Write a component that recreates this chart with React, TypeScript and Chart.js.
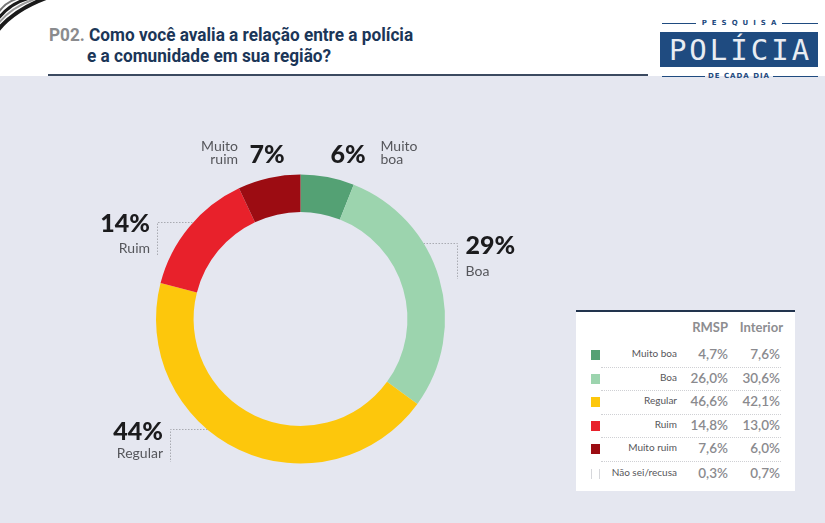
import React, { useEffect, useRef } from "react";
import { Chart, registerables } from "chart.js";

Chart.register(...registerables);

// ---------- DATA ----------
const categories = ["Muito boa", "Boa", "Regular", "Ruim", "Muito ruim"];
const totalValues = [6, 29, 44, 14, 7];
const sliceColors = ["#54a174", "#9cd4ae", "#fdc70c", "#e8212b", "#9c0c12"];

const tableHeaders = ["RMSP", "Interior"];
const tableRows = ["Muito boa", "Boa", "Regular", "Ruim", "Muito ruim", "Não sei/recusa"];
const rmspValues = ["4,7%", "26,0%", "46,6%", "14,8%", "7,6%", "0,3%"];
const interiorValues = ["7,6%", "30,6%", "42,1%", "13,0%", "6,0%", "0,7%"];

const titleCode = "P02.";
const titleLines = ["Como você avalia a relação entre a polícia", "e a comunidade em sua região?"];

// ---------- LABEL LAYOUT (offsets from donut centre, px) ----------
type LabelLayout = {
  pct: [number, number];
  pctAlign: CanvasTextAlign;
  name: [number, number];
  nameAlign: CanvasTextAlign;
  lineGap: number;
  leader?: { y: number; x1: number; x2: number; y2: number };
};
const labelLayout: LabelLayout[] = [
  { pct: [30, -156], pctAlign: "left", name: [80, -168], nameAlign: "left", lineGap: 13 },
  { pct: [165, -65], pctAlign: "left", name: [165, -43], nameAlign: "left", lineGap: 13,
    leader: { y: -76, x1: 90, x2: 156.5, y2: -40 } },
  { pct: [-137.5, 121], pctAlign: "right", name: [-137.5, 139], nameAlign: "right", lineGap: 13,
    leader: { y: 110, x1: -72, x2: -130.5, y2: 143 } },
  { pct: [-150.5, -87], pctAlign: "right", name: [-150.5, -66], nameAlign: "right", lineGap: 13,
    leader: { y: -97, x1: -75, x2: -143.5, y2: -64 } },
  { pct: [-51, -156], pctAlign: "left", name: [-62.5, -168], nameAlign: "right", lineGap: 13 },
];

const labelPlugin = {
  id: "donutLabels",
  beforeDatasetsDraw(chart: any) {
    const meta = chart.getDatasetMeta(0);
    const arc = meta.data[0];
    if (!arc) return;
    const cx = arc.x;
    const cy = arc.y;
    const ctx = chart.ctx;
    ctx.save();
    ctx.strokeStyle = "#a9abb2";
    ctx.lineWidth = 1;
    ctx.setLineDash([1.5, 1.5]);
    labelLayout.forEach((l) => {
      if (!l.leader) return;
      const { y, x1, x2, y2 } = l.leader;
      ctx.beginPath();
      ctx.moveTo(cx + x1, cy + y + 0.5);
      ctx.lineTo(cx + x2 + 0.5, cy + y + 0.5);
      ctx.lineTo(cx + x2 + 0.5, cy + y2);
      ctx.stroke();
    });
    ctx.restore();
  },
  afterDatasetsDraw(chart: any) {
    const meta = chart.getDatasetMeta(0);
    const arc = meta.data[0];
    if (!arc) return;
    const cx = arc.x;
    const cy = arc.y;
    const ctx = chart.ctx;
    ctx.save();
    ctx.textBaseline = "alphabetic";
    categories.forEach((cat, i) => {
      const l = labelLayout[i];
      ctx.fillStyle = "#1b1b1d";
      ctx.font = "900 25px Lato, 'Open Sans', sans-serif";
      ctx.textAlign = l.pctAlign;
      ctx.fillText(`${totalValues[i]}%`, cx + l.pct[0], cy + l.pct[1]);
      ctx.fillStyle = "#55565b";
      ctx.font = "14px Lato, 'Open Sans', sans-serif";
      ctx.textAlign = l.nameAlign;
      const words = cat.split(" ");
      words.forEach((w, k) => {
        ctx.fillText(w, cx + l.name[0], cy + l.name[1] + k * l.lineGap);
      });
    });
    ctx.restore();
  },
};

function DonutChart() {
  const ref = useRef<HTMLCanvasElement | null>(null);
  useEffect(() => {
    if (!ref.current) return;
    const chart = new Chart(ref.current, {
      type: "doughnut",
      data: {
        labels: categories,
        datasets: [
          {
            data: totalValues,
            backgroundColor: sliceColors,
            borderWidth: 0,
          },
        ],
      },
      options: {
        responsive: false,
        animation: false,
        cutout: "74%",
        layout: { padding: { left: 156, right: 125, top: 94.5, bottom: 59.5 } },
        plugins: {
          legend: { display: false },
          tooltip: { enabled: false },
          title: { display: false },
        },
      },
      plugins: [labelPlugin],
    });
    return () => chart.destroy();
  }, []);
  return (
    <canvas
      ref={ref}
      width={570}
      height={443}
      style={{ position: "absolute", left: 0, top: 80, width: 570, height: 443 }}
    />
  );
}

function Logo() {
  const navy = "#1f4b80";
  return (
    <>
      <div style={{ position: "absolute", left: 662, top: 23, width: 34, height: 1, background: navy }} />
      <div style={{ position: "absolute", left: 782, top: 23, width: 36, height: 1, background: navy }} />
      <div
        style={{
          position: "absolute", left: 696, top: 17, width: 86, height: 12, textAlign: "center",
          font: "bold 7px 'DejaVu Sans', sans-serif", letterSpacing: 5, color: navy, lineHeight: "12px",
          paddingLeft: 5, boxSizing: "border-box",
        }}
      >
        PESQUISA
      </div>
      <div
        style={{
          position: "absolute", left: 660, top: 32, width: 158, height: 35, background: navy,
          color: "#e9edf3", font: "400 29px 'DejaVu Sans Mono', monospace", letterSpacing: 3,
          textAlign: "center", lineHeight: "36px", paddingLeft: 3, boxSizing: "border-box",
        }}
      >
        POLÍCIA
      </div>
      <div style={{ position: "absolute", left: 662, top: 76, width: 43, height: 1, background: navy }} />
      <div style={{ position: "absolute", left: 773, top: 76, width: 45, height: 1, background: navy }} />
      <div
        style={{
          position: "absolute", left: 705, top: 70, width: 68, height: 12, textAlign: "center",
          font: "bold 7px 'DejaVu Sans', sans-serif", letterSpacing: 1, color: navy, lineHeight: "12px",
        }}
      >
        DE CADA DIA
      </div>
    </>
  );
}

function Table() {
  const rowCenters = [353, 377, 400, 424, 447, 472];
  const sepYs = [365, 388, 412, 435, 459];
  const top = 310;
  const left = 576;
  return (
    <div
      style={{
        position: "absolute", left, top, width: 219, height: 181, background: "#ffffff",
        borderTop: "2px solid #22344e", boxSizing: "border-box",
      }}
    >
      {tableHeaders.map((h, i) => (
        <div
          key={h}
          style={{
            position: "absolute", left: 0, top: 326 - top - 9, width: i === 0 ? 152 : 207, height: 18,
            lineHeight: "18px", textAlign: "right", font: "bold 13px Lato, sans-serif", color: "#8d8d90",
          }}
        >
          {h}
        </div>
      ))}
      {sepYs.map((y, i) => (
        <div
          key={"s" + i}
          style={{
            position: "absolute", left: 25, top: y - top, width: 180, height: 0,
            borderTop: "1px dotted #cfd0d4",
          }}
        />
      ))}
      {tableRows.map((r, i) => {
        const c = rowCenters[i] - top;
        const color = sliceColors[i];
        return (
          <React.Fragment key={r}>
            <div
              style={{
                position: "absolute", left: 15, top: c - 5, width: 9, height: 10,
                background: color || "transparent",
                borderLeft: color ? "none" : "1px solid #d6d7db",
                borderRight: color ? "none" : "1px solid #d6d7db",
                boxSizing: "border-box",
              }}
            />
            <div
              style={{
                position: "absolute", left: 0, top: c - 8, width: 101, height: 16, lineHeight: "16px",
                textAlign: "right", font: "10px Lato, sans-serif", color: "#56565a",
              }}
            >
              {r}
            </div>
            <div
              style={{
                position: "absolute", left: 0, top: c - 9, width: 152, height: 18, lineHeight: "18px",
                textAlign: "right", font: "600 13.5px Lato, sans-serif", color: "#8a8a8e",
              }}
            >
              {rmspValues[i]}
            </div>
            <div
              style={{
                position: "absolute", left: 0, top: c - 9, width: 204, height: 18, lineHeight: "18px",
                textAlign: "right", font: "600 13.5px Lato, sans-serif", color: "#8a8a8e",
              }}
            >
              {interiorValues[i]}
            </div>
          </React.Fragment>
        );
      })}
    </div>
  );
}

export default function App() {
  return (
    <div
      style={{
        position: "absolute", left: 0, top: 0, width: 825, height: 523, overflow: "hidden",
        background: "#e5e7f0", fontFamily: "Roboto, sans-serif",
      }}
    >
      <div style={{ position: "absolute", left: 0, top: 0, width: 825, height: 76, background: "#ffffff" }} />
      <svg style={{ position: "absolute", left: 0, top: 0 }} width={50} height={40}>
        <path d="M -2 30 Q 14 10 46 -2" stroke="#1a1a1a" strokeWidth={4} fill="none" />
        <path d="M -2 24 Q 12 6 38 -2" stroke="#9a9a9a" strokeWidth={2} fill="none" />
        <path d="M -2 19 Q 10 3 30 -2" stroke="#1a1a1a" strokeWidth={3} fill="none" />
        <path d="M -2 13 Q 6 1 20 -2" stroke="#777" strokeWidth={2} fill="none" />
      </svg>
      <div style={{ position: "absolute", left: 48, top: 74, width: 600, height: 2, background: "#3b4a60" }} />
      <div
        style={{
          position: "absolute", left: 49, top: 24, whiteSpace: "nowrap",
          font: "bold 18px Roboto, sans-serif", lineHeight: "21px", color: "#8a8b8e",
          transform: "scaleX(0.955)", transformOrigin: "left top",
        }}
      >
        {titleCode}{" "}
        <span style={{ color: "#1b3658" }}>{titleLines[0]}</span>
      </div>
      <div
        style={{
          position: "absolute", left: 87, top: 45, whiteSpace: "nowrap",
          font: "bold 18px Roboto, sans-serif", lineHeight: "21px", color: "#1b3658",
          transform: "scaleX(0.955)", transformOrigin: "left top",
        }}
      >
        {titleLines[1]}
      </div>
      <Logo />
      <DonutChart />
      <Table />
    </div>
  );
}
